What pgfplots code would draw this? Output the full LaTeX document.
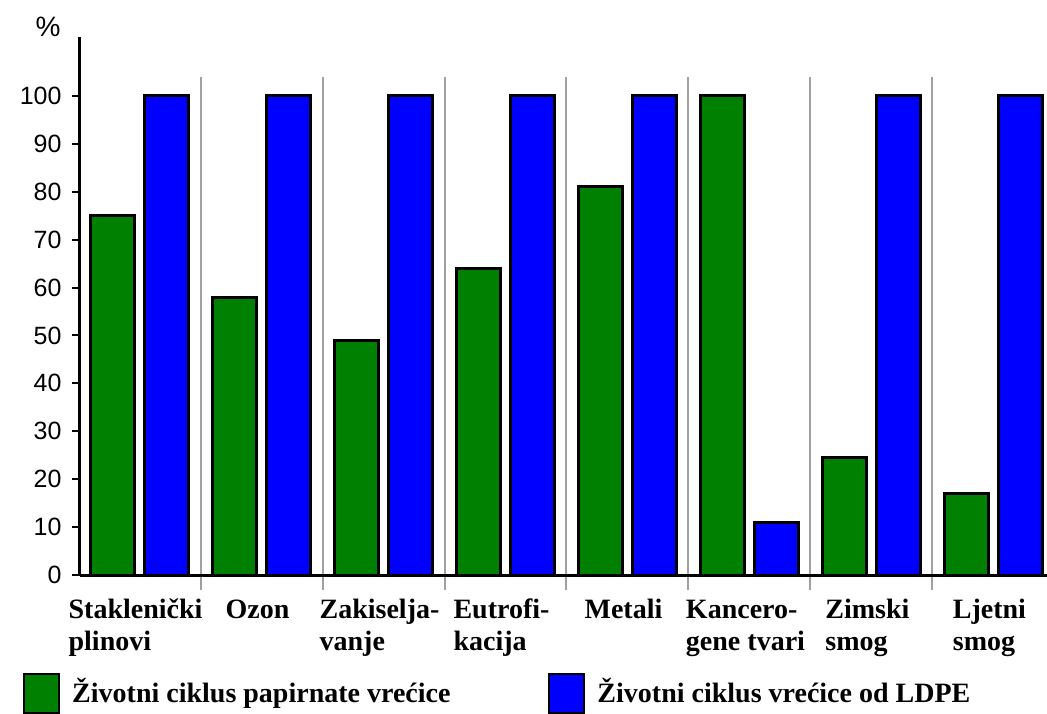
\documentclass[border=0pt]{standalone}
\usepackage{fontspec}
\setmainfont{Liberation Serif}
\newfontfamily\sansf{Liberation Sans}
\usepackage{pgfplots}
\pgfplotsset{compat=1.18}
\definecolor{pgreen}{RGB}{0,128,0}
\definecolor{pblue}{RGB}{0,0,255}
\definecolor{sepgray}{RGB}{160,160,160}
\newcommand{\st}{\vphantom{\v{Z}}}
\begin{document}
\begin{tikzpicture}[x=1pt,y=1pt]
\useasboundingbox (0,0) rectangle (1047,713);
\begin{axis}[
  at={(80pt,138pt)}, anchor=south west,
  scale only axis, width=967pt, height=538pt,
  xmin=-0.488, xmax=7.439, ymin=0, ymax=112.3,
  axis x line=bottom, axis y line=left,
  axis line style={-, line width=3pt, black},
  axis on top,
  clip=false,
  ytick={0,10,...,100},
  xtick={0,...,7},
  xticklabels={{\st Stakleni\v{c}ki\\plinovi},{\st Ozon},{\st Zakiselja-\\vanje},{\st Eutrofi-\\kacija},{\st Metali},{\st Kancero-\\gene tvari},{\st Zimski\\smog},{\st Ljetni\\smog}},
  x tick style={draw=none},
  y tick style={line width=2pt, black},
  tick align=outside, major tick length=8pt,
  /pgf/number format/assume math mode=true,
  yticklabel style={font=\sansf\fontsize{25}{25}\selectfont, xshift=-7pt},
  xticklabel style={font=\bfseries\fontsize{28}{32}\selectfont, align=left, anchor=north, yshift=-8pt, xshift=-4pt},
  legend style={at={(-0.062,-0.178)}, anchor=north west, draw=none, fill=none,
    font=\bfseries\fontsize{28}{32}\selectfont, legend columns=2,
    /tikz/every odd column/.append style={column sep=10pt},
    /tikz/every even column/.append style={column sep=96pt}},
  legend cell align=left,
  legend image code/.code={\draw[#1, line width=2pt] (0pt,-22pt) rectangle (35pt,17pt);},
]
\addplot[ybar, bar width=0.36, bar shift=-0.22, fill=pgreen, draw=black, line width=3pt]
  coordinates {(0,75) (1,58) (2,49) (3,64) (4,81) (5,100) (6,24.6) (7,17)};
\addlegendentry{\v{Z}ivotni ciklus papirnate vre\'{c}ice}
\addplot[ybar, bar width=0.36, bar shift=0.22, fill=pblue, draw=black, line width=3pt]
  coordinates {(0,100) (1,100) (2,100) (3,100) (4,100) (5,11) (6,100) (7,100)};
\addlegendentry{\v{Z}ivotni ciklus vre\'{c}ice od LDPE}
\pgfplotsinvokeforeach{0.5,1.5,2.5,3.5,4.5,5.5,6.5}{
  \draw[sepgray, line width=2pt] (axis cs:#1,-3.2) -- (axis cs:#1,104);
}
\node[font=\sansf\fontsize{28}{28}\selectfont] at (rel axis cs:-0.033,1.0186) {\%};
\end{axis}
\end{tikzpicture}
\end{document}
